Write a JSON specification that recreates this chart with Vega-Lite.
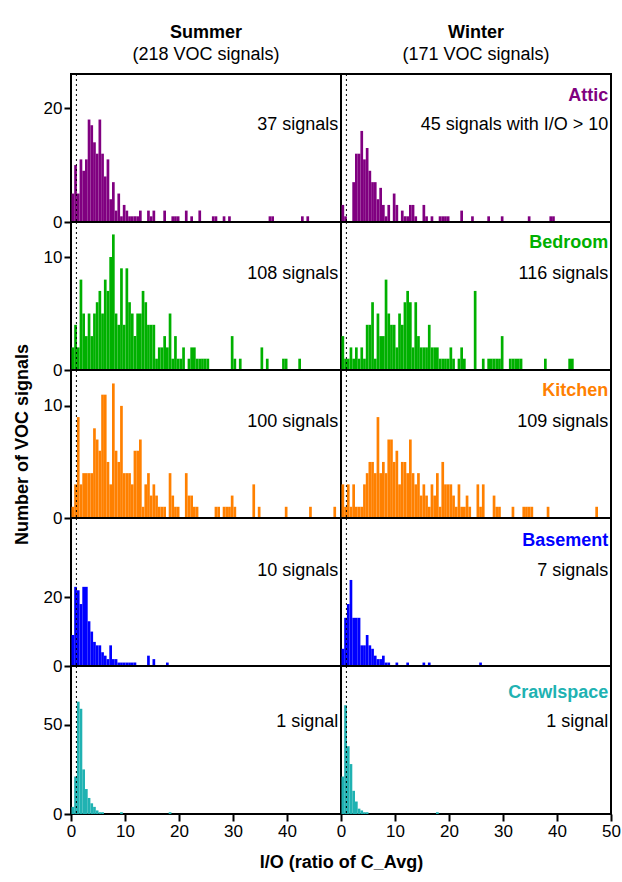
{
  "$schema": "https://vega.github.io/schema/vega-lite/v6.json",
  "padding": {"left": 12, "top": 22, "right": 8, "bottom": 0},
  "background": "white",
  "columns": 2,
  "spacing": 0,
  "bounds": "flush",
  "config": {
    "font": "Liberation Sans",
    "view": {"stroke": "black", "strokeWidth": 2},
    "axis": {"grid": false, "domain": false, "tickColor": "black", "tickWidth": 2, "tickSize": 7, "labelFontSize": 17, "labelColor": "black", "labelFlush": false, "labelOverlap": false, "titleFontSize": 18, "titleFontWeight": "bold", "titleColor": "black"},
    "title": {"fontSize": 18, "fontWeight": "bold", "subtitleFontSize": 18, "subtitleColor": "black", "color": "black", "anchor": "middle", "offset": 10, "subtitlePadding": 4},
    "text": {"fontSize": 18, "align": "right", "color": "black"},
    "bar": {"binSpacing": 0}
  },
  "data": {"values": [
    {"s":"S","r":"A","x":0,"n":5},{"s":"S","r":"A","x":0.5,"n":10},{"s":"S","r":"A","x":1,"n":5},{"s":"S","r":"A","x":1.5,"n":11},{"s":"S","r":"A","x":2,"n":9},{"s":"S","r":"A","x":2.5,"n":11},{"s":"S","r":"A","x":3,"n":18},{"s":"S","r":"A","x":3.5,"n":17},{"s":"S","r":"A","x":4,"n":14},{"s":"S","r":"A","x":4.5,"n":12},{"s":"S","r":"A","x":5,"n":18},{"s":"S","r":"A","x":5.5,"n":12},{"s":"S","r":"A","x":6,"n":8},{"s":"S","r":"A","x":6.5,"n":11},{"s":"S","r":"A","x":7,"n":4},{"s":"S","r":"A","x":7.5,"n":7},{"s":"S","r":"A","x":8,"n":2},{"s":"S","r":"A","x":8.5,"n":5},{"s":"S","r":"A","x":9,"n":1},{"s":"S","r":"A","x":9.5,"n":3},{"s":"S","r":"A","x":10,"n":2},{"s":"S","r":"A","x":10.5,"n":1},{"s":"S","r":"A","x":11,"n":1},{"s":"S","r":"A","x":11.5,"n":1},{"s":"S","r":"A","x":12,"n":1},{"s":"S","r":"A","x":12.5,"n":2},{"s":"S","r":"A","x":14,"n":2},{"s":"S","r":"A","x":14.5,"n":1},{"s":"S","r":"A","x":15,"n":2},{"s":"S","r":"A","x":17,"n":2},{"s":"S","r":"A","x":18.5,"n":1},{"s":"S","r":"A","x":19,"n":1},{"s":"S","r":"A","x":19.5,"n":1},{"s":"S","r":"A","x":21,"n":2},{"s":"S","r":"A","x":22,"n":1},{"s":"S","r":"A","x":23.5,"n":2},{"s":"S","r":"A","x":26,"n":1},{"s":"S","r":"A","x":26.5,"n":1},{"s":"S","r":"A","x":28,"n":1},{"s":"S","r":"A","x":29,"n":1},{"s":"S","r":"A","x":36.5,"n":1},{"s":"S","r":"A","x":37,"n":1},{"s":"S","r":"A","x":42.5,"n":1},{"s":"S","r":"A","x":43.5,"n":1},
    {"s":"W","r":"A","x":0,"n":3},{"s":"W","r":"A","x":0.5,"n":1},{"s":"W","r":"A","x":2,"n":7},{"s":"W","r":"A","x":2.5,"n":12},{"s":"W","r":"A","x":3,"n":12},{"s":"W","r":"A","x":3.5,"n":16},{"s":"W","r":"A","x":4,"n":11},{"s":"W","r":"A","x":4.5,"n":13},{"s":"W","r":"A","x":5,"n":9},{"s":"W","r":"A","x":5.5,"n":7},{"s":"W","r":"A","x":6,"n":7},{"s":"W","r":"A","x":6.5,"n":4},{"s":"W","r":"A","x":7,"n":6},{"s":"W","r":"A","x":7.5,"n":3},{"s":"W","r":"A","x":8,"n":1},{"s":"W","r":"A","x":8.5,"n":3},{"s":"W","r":"A","x":9.5,"n":5},{"s":"W","r":"A","x":10,"n":3},{"s":"W","r":"A","x":11,"n":2},{"s":"W","r":"A","x":11.5,"n":1},{"s":"W","r":"A","x":12,"n":1},{"s":"W","r":"A","x":12.5,"n":3},{"s":"W","r":"A","x":13,"n":3},{"s":"W","r":"A","x":13.5,"n":1},{"s":"W","r":"A","x":15,"n":3},{"s":"W","r":"A","x":15.5,"n":1},{"s":"W","r":"A","x":16.5,"n":1},{"s":"W","r":"A","x":18,"n":1},{"s":"W","r":"A","x":18.5,"n":1},{"s":"W","r":"A","x":19,"n":1},{"s":"W","r":"A","x":19.5,"n":1},{"s":"W","r":"A","x":22,"n":2},{"s":"W","r":"A","x":24,"n":1},{"s":"W","r":"A","x":27,"n":1},{"s":"W","r":"A","x":29.5,"n":1},{"s":"W","r":"A","x":34.5,"n":1},{"s":"W","r":"A","x":38.5,"n":1},{"s":"W","r":"A","x":39,"n":1},
    {"s":"S","r":"B","x":0,"n":2},{"s":"S","r":"B","x":0.5,"n":4},{"s":"S","r":"B","x":1,"n":2},{"s":"S","r":"B","x":1.5,"n":8},{"s":"S","r":"B","x":2,"n":5},{"s":"S","r":"B","x":2.5,"n":3},{"s":"S","r":"B","x":3,"n":5},{"s":"S","r":"B","x":3.5,"n":3},{"s":"S","r":"B","x":4,"n":5},{"s":"S","r":"B","x":4.5,"n":6},{"s":"S","r":"B","x":5,"n":7},{"s":"S","r":"B","x":5.5,"n":5},{"s":"S","r":"B","x":6,"n":8},{"s":"S","r":"B","x":6.5,"n":7},{"s":"S","r":"B","x":7,"n":10},{"s":"S","r":"B","x":7.5,"n":12},{"s":"S","r":"B","x":8,"n":5},{"s":"S","r":"B","x":8.5,"n":4},{"s":"S","r":"B","x":9,"n":9},{"s":"S","r":"B","x":9.5,"n":4},{"s":"S","r":"B","x":10,"n":9},{"s":"S","r":"B","x":10.5,"n":6},{"s":"S","r":"B","x":11,"n":5},{"s":"S","r":"B","x":11.5,"n":3},{"s":"S","r":"B","x":12,"n":5},{"s":"S","r":"B","x":12.5,"n":5},{"s":"S","r":"B","x":13,"n":7},{"s":"S","r":"B","x":13.5,"n":6},{"s":"S","r":"B","x":14,"n":4},{"s":"S","r":"B","x":14.5,"n":4},{"s":"S","r":"B","x":15,"n":4},{"s":"S","r":"B","x":15.5,"n":1},{"s":"S","r":"B","x":16,"n":2},{"s":"S","r":"B","x":16.5,"n":2},{"s":"S","r":"B","x":17,"n":3},{"s":"S","r":"B","x":17.5,"n":2},{"s":"S","r":"B","x":18,"n":5},{"s":"S","r":"B","x":18.5,"n":1},{"s":"S","r":"B","x":19,"n":3},{"s":"S","r":"B","x":19.5,"n":1},{"s":"S","r":"B","x":20,"n":1},{"s":"S","r":"B","x":20.5,"n":2},{"s":"S","r":"B","x":21.5,"n":1},{"s":"S","r":"B","x":22,"n":2},{"s":"S","r":"B","x":22.5,"n":2},{"s":"S","r":"B","x":23,"n":1},{"s":"S","r":"B","x":23.5,"n":1},{"s":"S","r":"B","x":24,"n":1},{"s":"S","r":"B","x":24.5,"n":1},{"s":"S","r":"B","x":25,"n":1},{"s":"S","r":"B","x":29.5,"n":3},{"s":"S","r":"B","x":30,"n":1},{"s":"S","r":"B","x":31,"n":1},{"s":"S","r":"B","x":35,"n":2},{"s":"S","r":"B","x":36,"n":1},{"s":"S","r":"B","x":39,"n":1},{"s":"S","r":"B","x":39.5,"n":1},{"s":"S","r":"B","x":42,"n":1},
    {"s":"W","r":"B","x":0,"n":3},{"s":"W","r":"B","x":0.5,"n":1},{"s":"W","r":"B","x":1,"n":1},{"s":"W","r":"B","x":1.5,"n":2},{"s":"W","r":"B","x":2,"n":1},{"s":"W","r":"B","x":2.5,"n":2},{"s":"W","r":"B","x":3,"n":1},{"s":"W","r":"B","x":3.5,"n":2},{"s":"W","r":"B","x":4,"n":1},{"s":"W","r":"B","x":4.5,"n":4},{"s":"W","r":"B","x":5,"n":4},{"s":"W","r":"B","x":5.5,"n":6},{"s":"W","r":"B","x":6,"n":1},{"s":"W","r":"B","x":6.5,"n":5},{"s":"W","r":"B","x":7,"n":3},{"s":"W","r":"B","x":7.5,"n":3},{"s":"W","r":"B","x":8,"n":8},{"s":"W","r":"B","x":8.5,"n":5},{"s":"W","r":"B","x":9,"n":4},{"s":"W","r":"B","x":9.5,"n":4},{"s":"W","r":"B","x":10,"n":2},{"s":"W","r":"B","x":10.5,"n":5},{"s":"W","r":"B","x":11,"n":4},{"s":"W","r":"B","x":11.5,"n":6},{"s":"W","r":"B","x":12,"n":7},{"s":"W","r":"B","x":12.5,"n":6},{"s":"W","r":"B","x":13,"n":2},{"s":"W","r":"B","x":13.5,"n":6},{"s":"W","r":"B","x":14,"n":3},{"s":"W","r":"B","x":14.5,"n":2},{"s":"W","r":"B","x":15,"n":2},{"s":"W","r":"B","x":15.5,"n":2},{"s":"W","r":"B","x":16,"n":4},{"s":"W","r":"B","x":16.5,"n":2},{"s":"W","r":"B","x":17,"n":2},{"s":"W","r":"B","x":17.5,"n":2},{"s":"W","r":"B","x":18,"n":1},{"s":"W","r":"B","x":18.5,"n":1},{"s":"W","r":"B","x":19,"n":1},{"s":"W","r":"B","x":19.5,"n":1},{"s":"W","r":"B","x":20,"n":2},{"s":"W","r":"B","x":20.5,"n":1},{"s":"W","r":"B","x":21.5,"n":1},{"s":"W","r":"B","x":22,"n":2},{"s":"W","r":"B","x":22.5,"n":1},{"s":"W","r":"B","x":24.5,"n":7},{"s":"W","r":"B","x":26,"n":1},{"s":"W","r":"B","x":27,"n":1},{"s":"W","r":"B","x":27.5,"n":1},{"s":"W","r":"B","x":28,"n":1},{"s":"W","r":"B","x":28.5,"n":1},{"s":"W","r":"B","x":29,"n":1},{"s":"W","r":"B","x":29.5,"n":3},{"s":"W","r":"B","x":31,"n":1},{"s":"W","r":"B","x":31.5,"n":1},{"s":"W","r":"B","x":32,"n":1},{"s":"W","r":"B","x":32.5,"n":1},{"s":"W","r":"B","x":33,"n":1},{"s":"W","r":"B","x":37.5,"n":1},{"s":"W","r":"B","x":42,"n":1},{"s":"W","r":"B","x":42.5,"n":1},
    {"s":"S","r":"K","x":0,"n":1},{"s":"S","r":"K","x":0.5,"n":3},{"s":"S","r":"K","x":1,"n":9},{"s":"S","r":"K","x":1.5,"n":3},{"s":"S","r":"K","x":2,"n":4},{"s":"S","r":"K","x":2.5,"n":4},{"s":"S","r":"K","x":3,"n":4},{"s":"S","r":"K","x":3.5,"n":4},{"s":"S","r":"K","x":4,"n":8},{"s":"S","r":"K","x":4.5,"n":7},{"s":"S","r":"K","x":5,"n":6},{"s":"S","r":"K","x":5.5,"n":11},{"s":"S","r":"K","x":6,"n":11},{"s":"S","r":"K","x":6.5,"n":5},{"s":"S","r":"K","x":7,"n":3},{"s":"S","r":"K","x":7.5,"n":12},{"s":"S","r":"K","x":8,"n":6},{"s":"S","r":"K","x":8.5,"n":5},{"s":"S","r":"K","x":9,"n":10},{"s":"S","r":"K","x":9.5,"n":4},{"s":"S","r":"K","x":10,"n":4},{"s":"S","r":"K","x":10.5,"n":4},{"s":"S","r":"K","x":11,"n":3},{"s":"S","r":"K","x":11.5,"n":6},{"s":"S","r":"K","x":12,"n":6},{"s":"S","r":"K","x":12.5,"n":7},{"s":"S","r":"K","x":13,"n":1},{"s":"S","r":"K","x":13.5,"n":3},{"s":"S","r":"K","x":14,"n":4},{"s":"S","r":"K","x":14.5,"n":2},{"s":"S","r":"K","x":15,"n":3},{"s":"S","r":"K","x":15.5,"n":2},{"s":"S","r":"K","x":16,"n":1},{"s":"S","r":"K","x":16.5,"n":1},{"s":"S","r":"K","x":17,"n":1},{"s":"S","r":"K","x":18,"n":4},{"s":"S","r":"K","x":18.5,"n":2},{"s":"S","r":"K","x":19,"n":1},{"s":"S","r":"K","x":19.5,"n":1},{"s":"S","r":"K","x":21,"n":4},{"s":"S","r":"K","x":21.5,"n":2},{"s":"S","r":"K","x":22,"n":2},{"s":"S","r":"K","x":22.5,"n":1},{"s":"S","r":"K","x":23,"n":1},{"s":"S","r":"K","x":26.5,"n":1},{"s":"S","r":"K","x":27,"n":1},{"s":"S","r":"K","x":28,"n":1},{"s":"S","r":"K","x":28.5,"n":1},{"s":"S","r":"K","x":29,"n":1},{"s":"S","r":"K","x":29.5,"n":2},{"s":"S","r":"K","x":30,"n":1},{"s":"S","r":"K","x":33.5,"n":3},{"s":"S","r":"K","x":34.5,"n":1},{"s":"S","r":"K","x":39.5,"n":1},{"s":"S","r":"K","x":44,"n":1},{"s":"S","r":"K","x":48.5,"n":1},
    {"s":"W","r":"K","x":0,"n":3},{"s":"W","r":"K","x":0.5,"n":1},{"s":"W","r":"K","x":1,"n":3},{"s":"W","r":"K","x":1.5,"n":1},{"s":"W","r":"K","x":2,"n":3},{"s":"W","r":"K","x":2.5,"n":1},{"s":"W","r":"K","x":3,"n":1},{"s":"W","r":"K","x":3.5,"n":1},{"s":"W","r":"K","x":4,"n":3},{"s":"W","r":"K","x":4.5,"n":4},{"s":"W","r":"K","x":5,"n":5},{"s":"W","r":"K","x":5.5,"n":5},{"s":"W","r":"K","x":6,"n":4},{"s":"W","r":"K","x":6.5,"n":9},{"s":"W","r":"K","x":7,"n":4},{"s":"W","r":"K","x":7.5,"n":5},{"s":"W","r":"K","x":8,"n":4},{"s":"W","r":"K","x":8.5,"n":7},{"s":"W","r":"K","x":9,"n":7},{"s":"W","r":"K","x":9.5,"n":5},{"s":"W","r":"K","x":10,"n":6},{"s":"W","r":"K","x":10.5,"n":3},{"s":"W","r":"K","x":11,"n":5},{"s":"W","r":"K","x":11.5,"n":5},{"s":"W","r":"K","x":12,"n":4},{"s":"W","r":"K","x":12.5,"n":7},{"s":"W","r":"K","x":13,"n":4},{"s":"W","r":"K","x":13.5,"n":3},{"s":"W","r":"K","x":14,"n":4},{"s":"W","r":"K","x":14.5,"n":2},{"s":"W","r":"K","x":15,"n":3},{"s":"W","r":"K","x":15.5,"n":2},{"s":"W","r":"K","x":16,"n":1},{"s":"W","r":"K","x":16.5,"n":3},{"s":"W","r":"K","x":17,"n":2},{"s":"W","r":"K","x":17.5,"n":4},{"s":"W","r":"K","x":18,"n":1},{"s":"W","r":"K","x":18.5,"n":5},{"s":"W","r":"K","x":19,"n":3},{"s":"W","r":"K","x":19.5,"n":3},{"s":"W","r":"K","x":20,"n":3},{"s":"W","r":"K","x":20.5,"n":2},{"s":"W","r":"K","x":21,"n":1},{"s":"W","r":"K","x":21.5,"n":3},{"s":"W","r":"K","x":22,"n":1},{"s":"W","r":"K","x":22.5,"n":1},{"s":"W","r":"K","x":23,"n":2},{"s":"W","r":"K","x":23.5,"n":1},{"s":"W","r":"K","x":25,"n":3},{"s":"W","r":"K","x":25.5,"n":1},{"s":"W","r":"K","x":26,"n":3},{"s":"W","r":"K","x":28,"n":2},{"s":"W","r":"K","x":28.5,"n":1},{"s":"W","r":"K","x":29,"n":1},{"s":"W","r":"K","x":31.5,"n":1},{"s":"W","r":"K","x":33.5,"n":1},{"s":"W","r":"K","x":34,"n":1},{"s":"W","r":"K","x":34.5,"n":1},{"s":"W","r":"K","x":35,"n":1},{"s":"W","r":"K","x":38,"n":1},{"s":"W","r":"K","x":47,"n":1},
    {"s":"S","r":"Ba","x":0,"n":9},{"s":"S","r":"Ba","x":0.5,"n":23},{"s":"S","r":"Ba","x":1,"n":22},{"s":"S","r":"Ba","x":1.5,"n":18},{"s":"S","r":"Ba","x":2,"n":23},{"s":"S","r":"Ba","x":2.5,"n":23},{"s":"S","r":"Ba","x":3,"n":13},{"s":"S","r":"Ba","x":3.5,"n":10},{"s":"S","r":"Ba","x":4,"n":7},{"s":"S","r":"Ba","x":4.5,"n":6},{"s":"S","r":"Ba","x":5,"n":6},{"s":"S","r":"Ba","x":5.5,"n":4},{"s":"S","r":"Ba","x":6,"n":3},{"s":"S","r":"Ba","x":6.5,"n":2},{"s":"S","r":"Ba","x":7,"n":6},{"s":"S","r":"Ba","x":7.5,"n":2},{"s":"S","r":"Ba","x":8,"n":2},{"s":"S","r":"Ba","x":8.5,"n":1},{"s":"S","r":"Ba","x":9,"n":1},{"s":"S","r":"Ba","x":9.5,"n":1},{"s":"S","r":"Ba","x":10,"n":1},{"s":"S","r":"Ba","x":10.5,"n":1},{"s":"S","r":"Ba","x":11,"n":1},{"s":"S","r":"Ba","x":11.5,"n":1},{"s":"S","r":"Ba","x":14,"n":3},{"s":"S","r":"Ba","x":15,"n":2},{"s":"S","r":"Ba","x":17.5,"n":1},
    {"s":"W","r":"Ba","x":0,"n":5},{"s":"W","r":"Ba","x":0.5,"n":14},{"s":"W","r":"Ba","x":1,"n":18},{"s":"W","r":"Ba","x":1.5,"n":25},{"s":"W","r":"Ba","x":2,"n":14},{"s":"W","r":"Ba","x":2.5,"n":14},{"s":"W","r":"Ba","x":3,"n":14},{"s":"W","r":"Ba","x":3.5,"n":6},{"s":"W","r":"Ba","x":4,"n":6},{"s":"W","r":"Ba","x":4.5,"n":9},{"s":"W","r":"Ba","x":5,"n":6},{"s":"W","r":"Ba","x":5.5,"n":5},{"s":"W","r":"Ba","x":6,"n":3},{"s":"W","r":"Ba","x":6.5,"n":2},{"s":"W","r":"Ba","x":7,"n":2},{"s":"W","r":"Ba","x":7.5,"n":3},{"s":"W","r":"Ba","x":8,"n":1},{"s":"W","r":"Ba","x":8.5,"n":1},{"s":"W","r":"Ba","x":10,"n":1},{"s":"W","r":"Ba","x":12,"n":1},{"s":"W","r":"Ba","x":15,"n":1},{"s":"W","r":"Ba","x":16,"n":1},{"s":"W","r":"Ba","x":25.5,"n":1},
    {"s":"S","r":"C","x":0,"n":4},{"s":"S","r":"C","x":0.5,"n":21},{"s":"S","r":"C","x":1,"n":63},{"s":"S","r":"C","x":1.5,"n":59},{"s":"S","r":"C","x":2,"n":25},{"s":"S","r":"C","x":2.5,"n":14},{"s":"S","r":"C","x":3,"n":9},{"s":"S","r":"C","x":3.5,"n":6},{"s":"S","r":"C","x":4,"n":4},{"s":"S","r":"C","x":4.5,"n":2},{"s":"S","r":"C","x":5,"n":1},{"s":"S","r":"C","x":5.5,"n":1},{"s":"S","r":"C","x":9,"n":1},{"s":"S","r":"C","x":18,"n":1},
    {"s":"W","r":"C","x":0,"n":21},{"s":"W","r":"C","x":0.5,"n":61},{"s":"W","r":"C","x":1,"n":38},{"s":"W","r":"C","x":1.5,"n":28},{"s":"W","r":"C","x":2,"n":13},{"s":"W","r":"C","x":2.5,"n":7},{"s":"W","r":"C","x":3,"n":3},{"s":"W","r":"C","x":3.5,"n":2},{"s":"W","r":"C","x":4,"n":1},{"s":"W","r":"C","x":4.5,"n":1},{"s":"W","r":"C","x":17.5,"n":1}
  ]},
  "concat": [
      {"width": 270, "height": 148, "title": {"text": "Summer", "subtitle": "(218 VOC signals)"},
       "layer": [
        {"transform": [{"filter": "datum.s=='S' && datum.r=='A'"}, {"calculate": "datum.x+0.5", "as": "x2"}],
         "mark": {"type": "bar", "color": "#800080"},
         "encoding": {"x": {"field": "x", "type": "quantitative", "bin": {"binned": true}, "scale": {"domain": [0, 50], "nice": false}, "axis": null}, "x2": {"field": "x2"},
          "y": {"field": "n", "type": "quantitative", "scale": {"domain": [0, 26], "nice": false}, "axis": {"values": [0, 20], "title": null}}}},
        {"data": {"values": [{}]}, "mark": {"type": "rule", "strokeDash": [2, 3], "color": "black"}, "encoding": {"x": {"datum": 1, "type": "quantitative"}}},
        {"data": {"values": [{}]}, "mark": {"type": "text"}, "encoding": {"x": {"datum": 49.5, "type": "quantitative"}, "y": {"datum": 17, "type": "quantitative"}, "text": {"value": "37 signals"}}}
       ]},
      {"width": 270, "height": 148, "title": {"text": "Winter", "subtitle": "(171 VOC signals)"},
       "layer": [
        {"transform": [{"filter": "datum.s=='W' && datum.r=='A'"}, {"calculate": "datum.x+0.5", "as": "x2"}],
         "mark": {"type": "bar", "color": "#800080"},
         "encoding": {"x": {"field": "x", "type": "quantitative", "bin": {"binned": true}, "scale": {"domain": [0, 50], "nice": false}, "axis": null}, "x2": {"field": "x2"},
          "y": {"field": "n", "type": "quantitative", "scale": {"domain": [0, 26], "nice": false}, "axis": null}}},
        {"data": {"values": [{}]}, "mark": {"type": "rule", "strokeDash": [2, 3], "color": "black"}, "encoding": {"x": {"datum": 1, "type": "quantitative"}}},
        {"data": {"values": [{}]}, "mark": {"type": "text", "fontWeight": "bold", "color": "#800080"}, "encoding": {"x": {"datum": 49.5, "type": "quantitative"}, "y": {"datum": 22.2, "type": "quantitative"}, "text": {"value": "Attic"}}},
        {"data": {"values": [{}]}, "mark": {"type": "text"}, "encoding": {"x": {"datum": 49.5, "type": "quantitative"}, "y": {"datum": 17, "type": "quantitative"}, "text": {"value": "45 signals with I/O > 10"}}}
       ]},
      {"width": 270, "height": 148,
       "layer": [
        {"transform": [{"filter": "datum.s=='S' && datum.r=='B'"}, {"calculate": "datum.x+0.5", "as": "x2"}],
         "mark": {"type": "bar", "color": "#00b000"},
         "encoding": {"x": {"field": "x", "type": "quantitative", "bin": {"binned": true}, "scale": {"domain": [0, 50], "nice": false}, "axis": null}, "x2": {"field": "x2"},
          "y": {"field": "n", "type": "quantitative", "scale": {"domain": [0, 13.1], "nice": false}, "axis": {"values": [0, 10], "title": null}}}},
        {"data": {"values": [{}]}, "mark": {"type": "rule", "strokeDash": [2, 3], "color": "black"}, "encoding": {"x": {"datum": 1, "type": "quantitative"}}},
        {"data": {"values": [{}]}, "mark": {"type": "text"}, "encoding": {"x": {"datum": 49.5, "type": "quantitative"}, "y": {"datum": 8.5, "type": "quantitative"}, "text": {"value": "108 signals"}}}
       ]},
      {"width": 270, "height": 148,
       "layer": [
        {"transform": [{"filter": "datum.s=='W' && datum.r=='B'"}, {"calculate": "datum.x+0.5", "as": "x2"}],
         "mark": {"type": "bar", "color": "#00b000"},
         "encoding": {"x": {"field": "x", "type": "quantitative", "bin": {"binned": true}, "scale": {"domain": [0, 50], "nice": false}, "axis": null}, "x2": {"field": "x2"},
          "y": {"field": "n", "type": "quantitative", "scale": {"domain": [0, 13.1], "nice": false}, "axis": null}}},
        {"data": {"values": [{}]}, "mark": {"type": "rule", "strokeDash": [2, 3], "color": "black"}, "encoding": {"x": {"datum": 1, "type": "quantitative"}}},
        {"data": {"values": [{}]}, "mark": {"type": "text", "fontWeight": "bold", "color": "#00b000"}, "encoding": {"x": {"datum": 49.5, "type": "quantitative"}, "y": {"datum": 11.2, "type": "quantitative"}, "text": {"value": "Bedroom"}}},
        {"data": {"values": [{}]}, "mark": {"type": "text"}, "encoding": {"x": {"datum": 49.5, "type": "quantitative"}, "y": {"datum": 8.5, "type": "quantitative"}, "text": {"value": "116 signals"}}}
       ]},
      {"width": 270, "height": 148,
       "layer": [
        {"transform": [{"filter": "datum.s=='S' && datum.r=='K'"}, {"calculate": "datum.x+0.5", "as": "x2"}],
         "mark": {"type": "bar", "color": "#ff8000"},
         "encoding": {"x": {"field": "x", "type": "quantitative", "bin": {"binned": true}, "scale": {"domain": [0, 50], "nice": false}, "axis": null}, "x2": {"field": "x2"},
          "y": {"field": "n", "type": "quantitative", "scale": {"domain": [0, 13.2], "nice": false}, "axis": {"values": [0, 10], "title": "Number of VOC signals", "titlePadding": 12}}}},
        {"data": {"values": [{}]}, "mark": {"type": "rule", "strokeDash": [2, 3], "color": "black"}, "encoding": {"x": {"datum": 1, "type": "quantitative"}}},
        {"data": {"values": [{}]}, "mark": {"type": "text"}, "encoding": {"x": {"datum": 49.5, "type": "quantitative"}, "y": {"datum": 8.6, "type": "quantitative"}, "text": {"value": "100 signals"}}}
       ]},
      {"width": 270, "height": 148,
       "layer": [
        {"transform": [{"filter": "datum.s=='W' && datum.r=='K'"}, {"calculate": "datum.x+0.5", "as": "x2"}],
         "mark": {"type": "bar", "color": "#ff8000"},
         "encoding": {"x": {"field": "x", "type": "quantitative", "bin": {"binned": true}, "scale": {"domain": [0, 50], "nice": false}, "axis": null}, "x2": {"field": "x2"},
          "y": {"field": "n", "type": "quantitative", "scale": {"domain": [0, 13.2], "nice": false}, "axis": null}}},
        {"data": {"values": [{}]}, "mark": {"type": "rule", "strokeDash": [2, 3], "color": "black"}, "encoding": {"x": {"datum": 1, "type": "quantitative"}}},
        {"data": {"values": [{}]}, "mark": {"type": "text", "fontWeight": "bold", "color": "#ff8000"}, "encoding": {"x": {"datum": 49.5, "type": "quantitative"}, "y": {"datum": 11.3, "type": "quantitative"}, "text": {"value": "Kitchen"}}},
        {"data": {"values": [{}]}, "mark": {"type": "text"}, "encoding": {"x": {"datum": 49.5, "type": "quantitative"}, "y": {"datum": 8.6, "type": "quantitative"}, "text": {"value": "109 signals"}}}
       ]},
      {"width": 270, "height": 148,
       "layer": [
        {"transform": [{"filter": "datum.s=='S' && datum.r=='Ba'"}, {"calculate": "datum.x+0.5", "as": "x2"}],
         "mark": {"type": "bar", "color": "#0000ff"},
         "encoding": {"x": {"field": "x", "type": "quantitative", "bin": {"binned": true}, "scale": {"domain": [0, 50], "nice": false}, "axis": null}, "x2": {"field": "x2"},
          "y": {"field": "n", "type": "quantitative", "scale": {"domain": [0, 43], "nice": false}, "axis": {"values": [0, 20], "title": null}}}},
        {"data": {"values": [{}]}, "mark": {"type": "rule", "strokeDash": [2, 3], "color": "black"}, "encoding": {"x": {"datum": 1, "type": "quantitative"}}},
        {"data": {"values": [{}]}, "mark": {"type": "text"}, "encoding": {"x": {"datum": 49.5, "type": "quantitative"}, "y": {"datum": 27.5, "type": "quantitative"}, "text": {"value": "10 signals"}}}
       ]},
      {"width": 270, "height": 148,
       "layer": [
        {"transform": [{"filter": "datum.s=='W' && datum.r=='Ba'"}, {"calculate": "datum.x+0.5", "as": "x2"}],
         "mark": {"type": "bar", "color": "#0000ff"},
         "encoding": {"x": {"field": "x", "type": "quantitative", "bin": {"binned": true}, "scale": {"domain": [0, 50], "nice": false}, "axis": null}, "x2": {"field": "x2"},
          "y": {"field": "n", "type": "quantitative", "scale": {"domain": [0, 43], "nice": false}, "axis": null}}},
        {"data": {"values": [{}]}, "mark": {"type": "rule", "strokeDash": [2, 3], "color": "black"}, "encoding": {"x": {"datum": 1, "type": "quantitative"}}},
        {"data": {"values": [{}]}, "mark": {"type": "text", "fontWeight": "bold", "color": "#0000ff"}, "encoding": {"x": {"datum": 49.5, "type": "quantitative"}, "y": {"datum": 36.3, "type": "quantitative"}, "text": {"value": "Basement"}}},
        {"data": {"values": [{}]}, "mark": {"type": "text"}, "encoding": {"x": {"datum": 49.5, "type": "quantitative"}, "y": {"datum": 27.5, "type": "quantitative"}, "text": {"value": "7 signals"}}}
       ]},
      {"width": 270, "height": 148,
       "layer": [
        {"transform": [{"filter": "datum.s=='S' && datum.r=='C'"}, {"calculate": "datum.x+0.5", "as": "x2"}],
         "mark": {"type": "bar", "color": "#20b2b2"},
         "encoding": {"x": {"field": "x", "type": "quantitative", "bin": {"binned": true}, "scale": {"domain": [0, 50], "nice": false}, "axis": {"values": [0, 10, 20, 30, 40], "title": "I/O (ratio of C_Avg)", "titleX": 270, "titlePadding": 14}}, "x2": {"field": "x2"},
          "y": {"field": "n", "type": "quantitative", "scale": {"domain": [0, 83], "nice": false}, "axis": {"values": [0, 50], "title": null}}}},
        {"data": {"values": [{}]}, "mark": {"type": "rule", "strokeDash": [2, 3], "color": "black"}, "encoding": {"x": {"datum": 1, "type": "quantitative"}}},
        {"data": {"values": [{}]}, "mark": {"type": "text"}, "encoding": {"x": {"datum": 49.5, "type": "quantitative"}, "y": {"datum": 51.5, "type": "quantitative"}, "text": {"value": "1 signal"}}}
       ]},
      {"width": 270, "height": 148,
       "layer": [
        {"transform": [{"filter": "datum.s=='W' && datum.r=='C'"}, {"calculate": "datum.x+0.5", "as": "x2"}],
         "mark": {"type": "bar", "color": "#20b2b2"},
         "encoding": {"x": {"field": "x", "type": "quantitative", "bin": {"binned": true}, "scale": {"domain": [0, 50], "nice": false}, "axis": {"values": [0, 10, 20, 30, 40, 50], "title": null}}, "x2": {"field": "x2"},
          "y": {"field": "n", "type": "quantitative", "scale": {"domain": [0, 83], "nice": false}, "axis": null}}},
        {"data": {"values": [{}]}, "mark": {"type": "rule", "strokeDash": [2, 3], "color": "black"}, "encoding": {"x": {"datum": 1, "type": "quantitative"}}},
        {"data": {"values": [{}]}, "mark": {"type": "text", "fontWeight": "bold", "color": "#20b2b2"}, "encoding": {"x": {"datum": 49.5, "type": "quantitative"}, "y": {"datum": 68, "type": "quantitative"}, "text": {"value": "Crawlspace"}}},
        {"data": {"values": [{}]}, "mark": {"type": "text"}, "encoding": {"x": {"datum": 49.5, "type": "quantitative"}, "y": {"datum": 51.5, "type": "quantitative"}, "text": {"value": "1 signal"}}}
       ]}
  ]
}
